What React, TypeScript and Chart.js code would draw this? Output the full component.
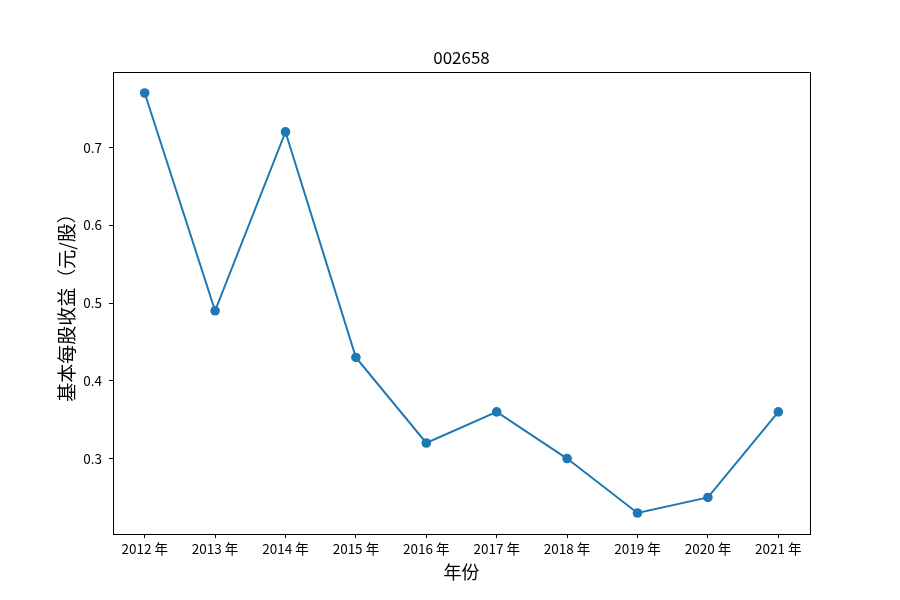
import React, { useEffect, useRef } from "react";
import { Chart, registerables } from "chart.js";

Chart.register(...registerables);

const title = "002658";
const years = ["2012 年", "2013 年", "2014 年", "2015 年", "2016 年", "2017 年", "2018 年", "2019 年", "2020 年", "2021 年"];
const eps = [0.77, 0.49, 0.72, 0.43, 0.32, 0.36, 0.30, 0.23, 0.25, 0.36];
const yTicks = [0.3, 0.4, 0.5, 0.6, 0.7];
const xLabel = "年份";
const yLabel = "基本每股收益（元/股）";

const FONT = "'Noto Sans CJK SC', 'DejaVu Sans', sans-serif";

export default function App() {
  const ref = useRef<HTMLCanvasElement>(null);
  useEffect(() => {
    const canvas = ref.current!;
    const framePlugin = {
      id: "frame",
      afterDraw(chart: any) {
        const { ctx, chartArea: a } = chart;
        ctx.save();
        ctx.strokeStyle = "#000";
        ctx.lineWidth = 1;
        ctx.strokeRect(Math.round(a.left) + 0.5, Math.round(a.top) + 0.5, Math.round(a.right - a.left), Math.round(a.bottom - a.top));
        ctx.fillStyle = "#000";
        ctx.font = `17px ${FONT}`;
        ctx.textAlign = "center";
        ctx.textBaseline = "middle";
        ctx.fillText(title, (a.left + a.right) / 2, 58);
        ctx.restore();
      },
    };
    const chart = new Chart(canvas, {
      type: "line",
      data: {
        datasets: [
          {
            data: eps.map((v, i) => ({ x: i, y: v })),
            borderColor: "#1f77b4",
            backgroundColor: "#1f77b4",
            borderWidth: 2,
            pointRadius: 4.8,
            pointHoverRadius: 4.8,
            pointBorderWidth: 0,
            tension: 0,
          },
        ],
      },
      options: {
        responsive: false,
        animation: false,
        layout: { padding: { top: 72, right: 90, left: 0, bottom: 0 } },
        plugins: { legend: { display: false }, tooltip: { enabled: false }, title: { display: false } },
        scales: {
          x: {
            type: "linear",
            min: -0.45,
            max: 9.45,
            afterBuildTicks: (s: any) => {
              s.ticks = years.map((_, i) => ({ value: i }));
            },
            afterFit: (s: any) => {
              s.height = 66;
            },
            ticks: {
              callback: (v: any) => years[Math.round(Number(v))] ?? "",
              color: "#000",
              font: { family: FONT, size: 13.5 },
              padding: 3,
              maxRotation: 0,
              autoSkip: false,
            },
            grid: { drawOnChartArea: false, drawTicks: true, tickLength: 4, color: "#000" },
            border: { display: true, color: "#000" },
            title: { display: true, text: xLabel, color: "#000", font: { family: FONT, size: 18 }, padding: { top: 0, bottom: 17 } },
          },
          y: {
            type: "linear",
            min: 0.203,
            max: 0.797,
            afterBuildTicks: (s: any) => {
              s.ticks = yTicks.map((v) => ({ value: v }));
            },
            afterFit: (s: any) => {
              s.width = 113;
            },
            ticks: {
              callback: (v: any) => Number(v).toFixed(1),
              color: "#000",
              font: { family: FONT, size: 13.5 },
              padding: 7,
            },
            grid: { drawOnChartArea: false, drawTicks: true, tickLength: 4, color: "#000" },
            border: { display: true, color: "#000" },
            title: { display: true, text: yLabel, color: "#000", font: { family: FONT, size: 19 }, padding: { top: 55, bottom: 0 } },
          },
        },
      },
      plugins: [framePlugin],
    } as any);
    return () => chart.destroy();
  }, []);
  return <canvas ref={ref} width={900} height={600} style={{ display: "block", position: "absolute", left: 0, top: 0 }} />;
}
